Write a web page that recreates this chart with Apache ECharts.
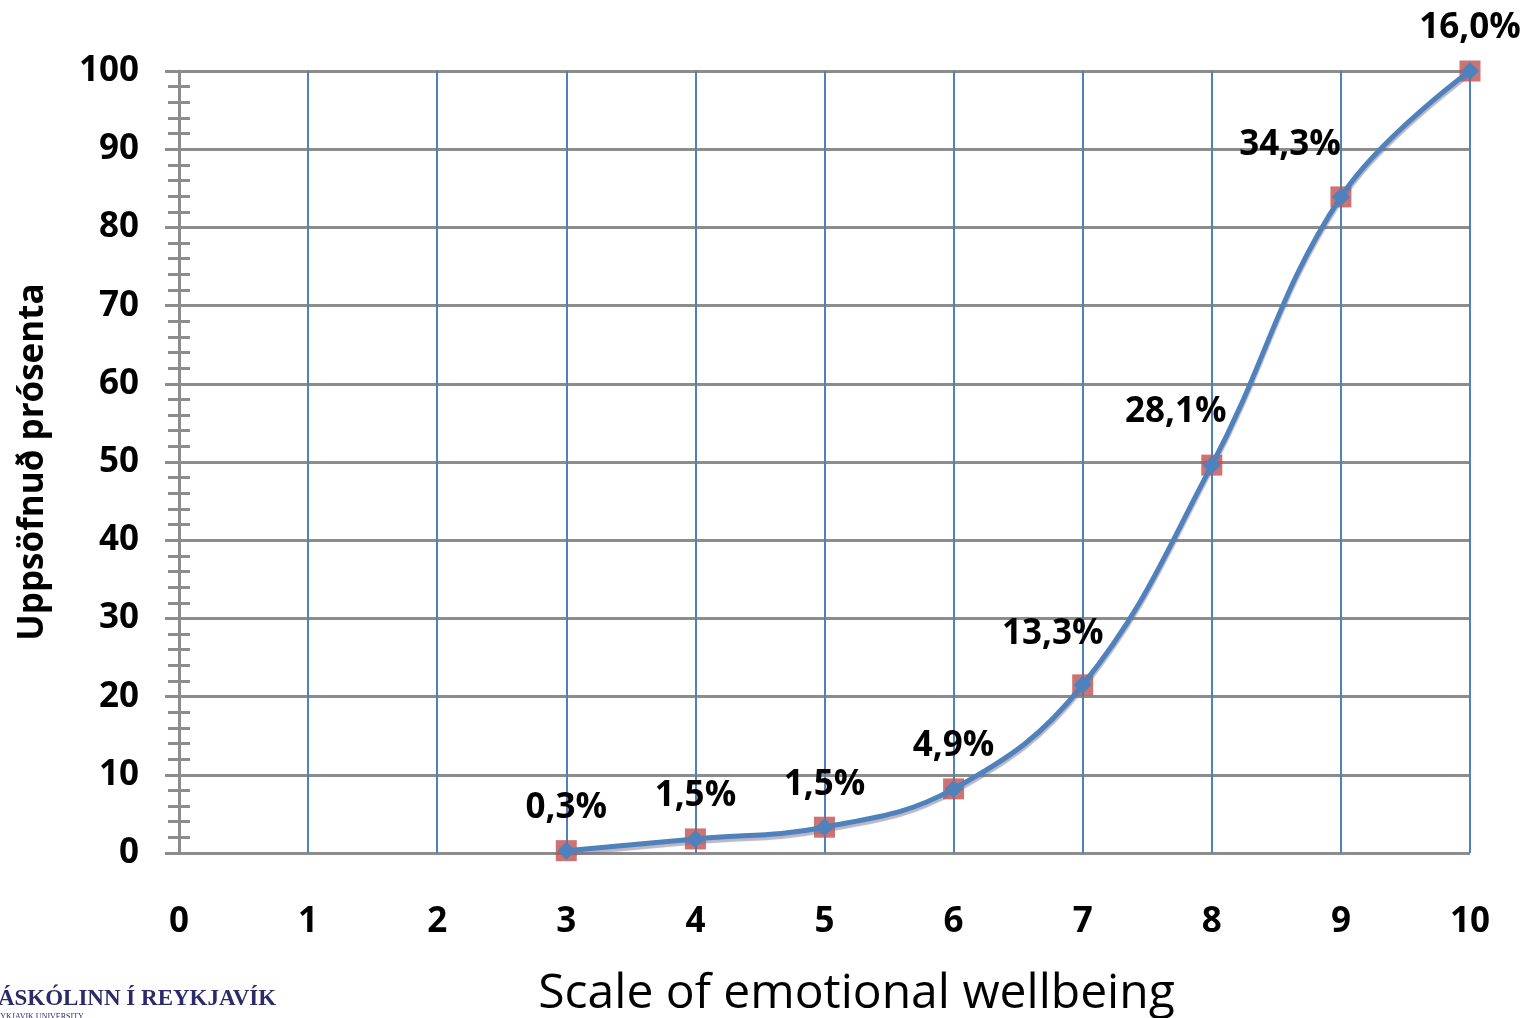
<!DOCTYPE html>
<html>
<head>
<meta charset="utf-8">
<script src="https://cdn.jsdelivr.net/npm/echarts@6/dist/echarts.min.js"></script>
<style>
html,body{margin:0;padding:0;background:#fff;}
#c{width:1528px;height:1018px;}
</style>
</head>
<body>
<div id="c"></div>
<script>
var xValues = [3, 4, 5, 6, 7, 8, 9, 10];
var cumulativePercent = [0.3, 1.8, 3.3, 8.2, 21.5, 49.6, 83.9, 100];
var shareLabels = ["0,3%", "1,5%", "1,5%", "4,9%", "13,3%", "28,1%", "34,3%", "16,0%"];
var xAxisTitle = "Scale of emotional wellbeing";
var yAxisTitle = "Uppsöfnuð prósenta";

var labelShift = [[0,0],[0,0],[0,0],[0,0],[-30,-8],[-36,-11],[-51,-9],[0,0]];

var chart = echarts.init(document.getElementById('c'));
var pts = xValues.map(function (x, i) { return [x, cumulativePercent[i]]; });
var lineData = pts.map(function (p, i) {
  return { value: p, label: { offset: labelShift[i] } };
});

var gray = '#8c8c8c';
var blue = '#4f81bd';
var lblFont = { fontFamily: 'Open Sans', fontWeight: 'bold', fontSize: 35, color: '#000' };

chart.setOption({
  animation: false,
  grid: { left: 179, right: 58, top: 71, bottom: 165, outerBoundsMode: 'none', containLabel: false },
  xAxis: {
    type: 'value', min: 0, max: 10, interval: 1,
    name: xAxisTitle, nameLocation: 'middle', nameGap: 117,
    nameTextStyle: { fontFamily: 'Open Sans', fontSize: 48, color: '#000', padding: [0, 0, 0, 64] },
    axisLine: { show: false },
    axisTick: { show: false },
    axisLabel: Object.assign({ margin: 52 }, lblFont),
    splitLine: { show: true, lineStyle: { color: blue, width: 2 } }
  },
  yAxis: [{
    type: 'value', min: 0, max: 100, interval: 10,
    name: yAxisTitle, nameLocation: 'middle', nameGap: 128,
    nameTextStyle: { fontFamily: 'Open Sans', fontWeight: 'bold', fontSize: 35, color: '#000' },
    axisLine: { show: true, lineStyle: { color: gray, width: 3 } },
    axisTick: { show: true, length: 14, lineStyle: { color: gray, width: 3 } },
    minorTick: { show: true, splitNumber: 5, length: 11, lineStyle: { color: gray, width: 3 } },
    axisLabel: Object.assign({ margin: 40 }, lblFont),
    splitLine: { show: true, lineStyle: { color: gray, width: 3 } }
  }, {
    type: 'value', min: 0, max: 100, interval: 10, position: 'left', offset: 0,
    axisLine: { show: false },
    axisTick: { show: false, inside: true },
    minorTick: { show: true, splitNumber: 5, length: 11, lineStyle: { color: gray, width: 3 } },
    axisLabel: { show: false },
    splitLine: { show: false }
  }],
  series: [{
    type: 'scatter', data: pts, symbol: 'rect', symbolSize: 21,
    itemStyle: { color: '#c0504d' }, z: 3, silent: true
  }, {
    type: 'line', data: lineData, smooth: 0.4,
    symbol: 'diamond', symbolSize: 18,
    lineStyle: { color: blue, width: 5, shadowColor: 'rgba(120,110,140,0.5)', shadowOffsetY: 3, shadowBlur: 1 },
    itemStyle: { color: blue },
    z: 4,
    label: Object.assign({
      show: true, position: 'top', distance: 16,
      formatter: function (p) { return shareLabels[p.dataIndex]; }
    }, lblFont)
  }],
  graphic: [{
    type: 'text', left: -20, top: 988,
    style: { text: 'HÁSKÓLINN Í REYKJAVÍK', font: 'bold 23px "Liberation Serif"', fill: '#2b2a6b' }
  }, {
    type: 'text', left: -10, top: 1013,
    style: { text: 'REYKJAVIK UNIVERSITY', font: '8px "Liberation Serif"', fill: '#2b2a6b' }
  }]
});
</script>
</body>
</html>
